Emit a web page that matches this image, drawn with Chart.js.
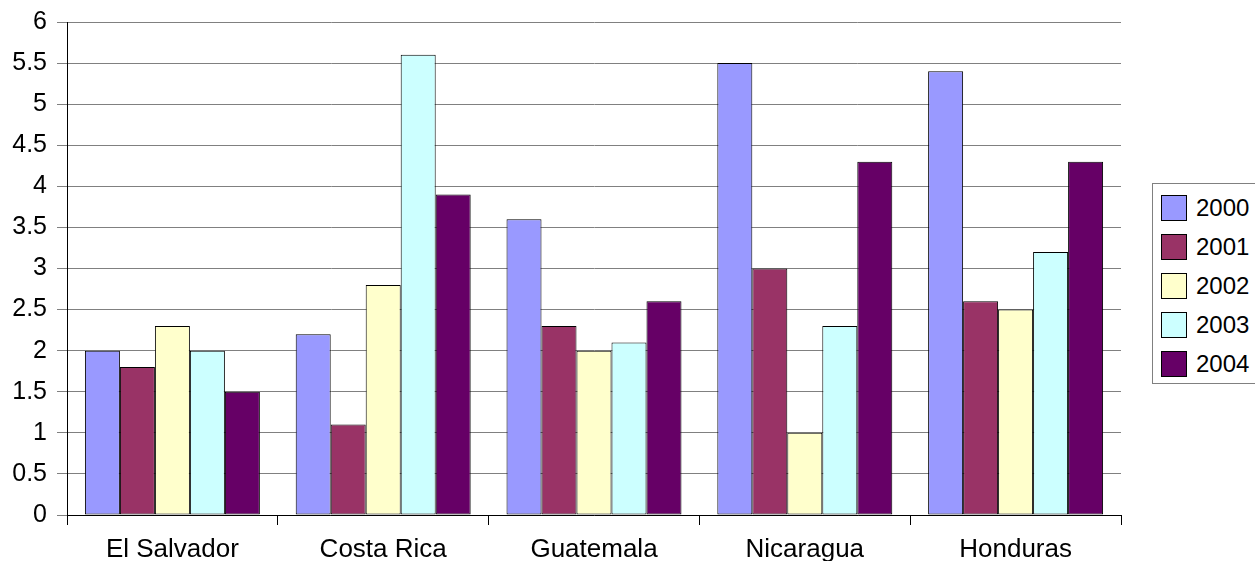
<!DOCTYPE html>
<html>
<head>
<meta charset="utf-8">
<script src="https://cdn.jsdelivr.net/npm/chart.js@4"></script>
<style>
  html, body { margin: 0; padding: 0; background: #fff; }
  #wrap { position: relative; width: 1255px; height: 561px; overflow: hidden; }
  #legend {
    position: absolute; left: 1152px; top: 183px; width: 130px; height: 201px;
    border: 1px solid #808080; box-sizing: border-box; background: #fff;
    font-family: "Liberation Sans", Arial, sans-serif; font-size: 24px; color: #000;
  }
  .item { position: absolute; left: 8px; height: 27px; display: flex; align-items: center; }
  .swatch { width: 26px; height: 26px; border: 1px solid #000; box-sizing: border-box; margin-right: 9px; }
</style>
</head>
<body>
<div id="wrap">
  <canvas id="chart" width="1255" height="561"></canvas>
  <div id="legend"></div>
</div>
<script>
// categories and series
const countries = ['El Salvador', 'Costa Rica', 'Guatemala', 'Nicaragua', 'Honduras'];
const years = ['2000', '2001', '2002', '2003', '2004'];
const v2000 = [2.0, 2.2, 3.6, 5.5, 5.4];
const v2001 = [1.8, 1.1, 2.3, 3.0, 2.6];
const v2002 = [2.3, 2.8, 2.0, 1.0, 2.5];
const v2003 = [2.0, 5.6, 2.1, 2.3, 3.2];
const v2004 = [1.5, 3.9, 2.6, 4.3, 4.3];
const colors = ['#9999FF', '#993366', '#FFFFCC', '#CCFFFF', '#660066'];

const series = [v2000, v2001, v2002, v2003, v2004];
const FONT = '"Liberation Sans", Arial, sans-serif';

new Chart(document.getElementById('chart'), {
    type: 'bar',
    data: {
        labels: countries,
        datasets: series.map((d, i) => ({
            label: years[i],
            data: d,
            backgroundColor: colors[i],
            borderColor: '#000',
            borderWidth: 1,
            borderSkipped: false,
            categoryPercentage: 0.83,
            barPercentage: 1.0
        }))
    },
    options: {
        responsive: false,
        animation: false,
        layout: { padding: { top: 22, right: 134, left: 0, bottom: 0 } },
        plugins: { legend: { display: false }, tooltip: { enabled: false } },
        scales: {
            x: {
                afterFit: s => { s.height = 46; s.paddingLeft = 0; s.paddingRight = 0; },
                grid: { offset: true, drawOnChartArea: false, color: '#000', tickLength: 10 },
                border: { color: '#000', width: 1 },
                ticks: { color: '#000', font: { family: FONT, size: 26 }, padding: 9 }
            },
            y: {
                min: 0, max: 6,
                // label overflow would otherwise push the plot top down
                afterFit: s => { s.width = 67; s.paddingTop = 0; s.paddingBottom = 0; },
                grid: { color: '#808080', tickLength: 10 },
                border: { color: '#000', width: 1 },
                ticks: {
                    stepSize: 0.5, color: '#000', font: { family: FONT, size: 25 }, padding: 10,
                    callback: v => String(v)
                }
            }
        }
    }
});

// legend box, built from the same arrays
const legend = document.getElementById('legend');
years.forEach((y, i) => {
    const row = document.createElement('div');
    row.className = 'item';
    row.style.top = (10 + i * 39) + 'px';
    row.innerHTML = '<span class="swatch" style="background:' + colors[i] + '"></span>' + y;
    legend.appendChild(row);
});
</script>
</body>
</html>
